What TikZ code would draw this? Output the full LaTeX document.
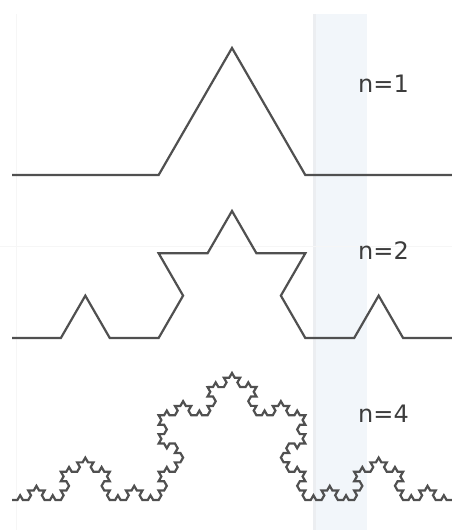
\documentclass[tikz,border=0pt]{standalone}
\usepackage{fontspec}
\setmainfont{DejaVu Sans}
\usetikzlibrary{decorations.fractals}
\definecolor{bandblue}{RGB}{242,246,250}
\definecolor{bandedge}{RGB}{236,238,241}
\definecolor{gridgray}{RGB}{246,246,246}
\definecolor{curvegray}{RGB}{80,80,80}
\definecolor{labelgray}{RGB}{60,60,60}
\tikzset{
  koch/.style={draw=curvegray, line width=2.2pt, line join=miter, decoration={Koch snowflake}},
  lbl/.style={anchor=base west, inner sep=0pt, text=labelgray, font=\fontsize{24}{28}\selectfont}
}
\begin{document}
\begin{tikzpicture}[x=1pt,y=1pt]
\useasboundingbox (0,0) rectangle (452,530);
\fill[white] (0,0) rectangle (452,530);
% background band and faint grid
\fill[bandblue] (313,0) rectangle (367,516);
\fill[bandedge] (313,0) rectangle (315.5,516);
\draw[gridgray, line width=1pt] (16,0) -- (16,516);
\draw[gridgray, line width=1pt] (0,283) -- (452,283);
% endpoints
\coordinate (a1) at (12,355); \coordinate (b1) at (452,355);
\coordinate (a2) at (12,192); \coordinate (b2) at (452,192);
\coordinate (a4) at (12,30);  \coordinate (b4) at (452,30);
% curves
\path[koch] decorate{ (a1) -- (b1) };
\path[koch] decorate{ decorate{ (a2) -- (b2) } };
\path[koch] decorate{ decorate{ decorate{ decorate{ (a4) -- (b4) } } } };
% labels
\node[lbl] (l1) at (358,437) {n=1};
\node[lbl] (l2) at (358,270) {n=2};
\node[lbl] (l4) at (358,107) {n=4};
\end{tikzpicture}
\end{document}
